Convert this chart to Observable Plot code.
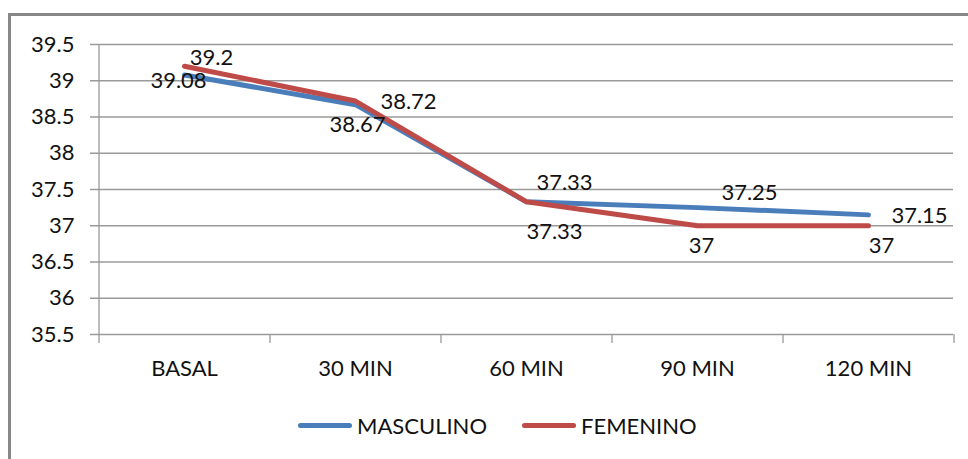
<!DOCTYPE html>
<html>
<head>
<meta charset="utf-8">
<script src="https://cdn.jsdelivr.net/npm/d3@7"></script>
<script src="https://cdn.jsdelivr.net/npm/@observablehq/plot@0.6"></script>
<style>
  html, body { margin: 0; padding: 0; background: #fff; overflow: hidden; }
  #wrap { position: relative; width: 968px; height: 459px; overflow: hidden; background: #fff; }
  #frame { position: absolute; left: 8px; top: 13px; width: 1000px; height: 500px; border: 3px solid #878787; box-sizing: border-box; pointer-events: none; }
  #chart { position: absolute; left: 0; top: 0; }
  #legend { position: absolute; left: 0; top: 390px; width: 968px; height: 69px; font-family: Lato, "Open Sans", sans-serif; font-size: 22px; color: #111; }
  .item { position: absolute; top: 24px; display: flex; align-items: center; height: 22px; }
  .sw { width: 54px; height: 5px; border-radius: 3px; margin-right: 5px; }
</style>
</head>
<body>
<div id="wrap">
  <div id="chart"></div>
  <div id="legend"></div>
  <div id="frame"></div>
</div>
<script>
const categories = ["BASAL", "30 MIN", "60 MIN", "90 MIN", "120 MIN"];
const masculino = [39.08, 38.67, 37.33, 37.25, 37.15];
const femenino = [39.2, 38.72, 37.33, 37, 37];
const yTicks = [35.5, 36, 36.5, 37, 37.5, 38, 38.5, 39, 39.5];
const seriesNames = ["MASCULINO", "FEMENINO"];
const seriesColors = ["#4A7EBB", "#BE4B48"];

// label placement (pixel offsets from each point), per series
const mascLabelOffsets = [[-6, 6], [2, 20], [38, -19], [52, -15], [51, 1]];
const femLabelOffsets = [[27, -8], [53, 1], [28, 30], [4, 20], [13, 20]];

const W = 968, H = 390;
const mL = 98, mR = 15, mT = 44, mB = 56;
const step = (W - mL - mR) / categories.length;

const rows = [];
categories.forEach((c, i) => {
  rows.push({cat: c, value: masculino[i], series: seriesNames[0], off: mascLabelOffsets[i]});
});
categories.forEach((c, i) => {
  rows.push({cat: c, value: femenino[i], series: seriesNames[1], off: femLabelOffsets[i]});
});

const font = "Lato, 'Open Sans', sans-serif";
const fs = 22;

const labelMarks = rows.map(d => Plot.text([d], {
  x: "cat", y: "value", text: d => String(d.value),
  dx: d.off[0], dy: d.off[1], fill: "#111", fontSize: fs
}));

const plot = Plot.plot({
  width: W, height: H,
  marginLeft: mL, marginRight: mR, marginTop: mT, marginBottom: mB,
  style: {fontFamily: font, fontSize: fs + "px", color: "#111", background: "transparent"},
  x: {type: "point", domain: categories, padding: 0.5, label: null},
  y: {domain: [35.5, 39.5], label: null},
  color: {domain: seriesNames, range: seriesColors},
  marks: [
    Plot.ruleY(yTicks, {y: d => d, stroke: "#9a9a9a", strokeWidth: 1.3, insetLeft: -8}),
    Plot.ruleX(categories.slice(0, 1), {x: d => d, dx: -step / 2, y1: 39.5, y2: 35.5, insetBottom: -9, stroke: "#9a9a9a", strokeWidth: 1.3}),
    Plot.ruleX(categories, {x: d => d, dx: step / 2, y1: 35.5, y2: 35.5, insetBottom: -9, stroke: "#9a9a9a", strokeWidth: 1.3}),
    Plot.axisY(yTicks, {tickSize: 0, tickPadding: 24, tickFormat: d => String(d), fontSize: fs, fill: "#111"}),
    Plot.axisX({tickSize: 0, tickPadding: 26, fontSize: fs, fill: "#111"}),
    Plot.line(rows.filter(d => d.series === seriesNames[0]), {x: "cat", y: "value", stroke: "series", strokeWidth: 5, strokeLinejoin: "round"}),
    Plot.line(rows.filter(d => d.series === seriesNames[1]), {x: "cat", y: "value", stroke: "series", strokeWidth: 5, strokeLinejoin: "round"}),
    ...labelMarks
  ]
});
document.getElementById("chart").appendChild(plot);

const legend = document.getElementById("legend");
const legendLeft = [298, 522];
seriesNames.forEach((name, i) => {
  const item = document.createElement("div");
  item.className = "item";
  item.style.left = legendLeft[i] + "px";
  const sw = document.createElement("div");
  sw.className = "sw";
  sw.style.background = seriesColors[i];
  const t = document.createElement("span");
  t.textContent = name;
  item.appendChild(sw);
  item.appendChild(t);
  legend.appendChild(item);
});
</script>
</body>
</html>
